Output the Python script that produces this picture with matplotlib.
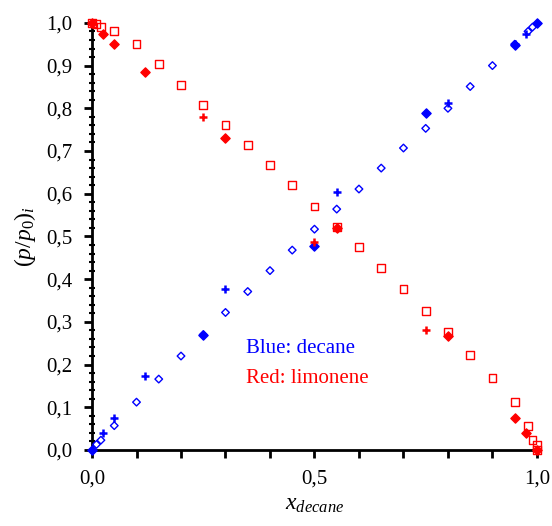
import matplotlib
matplotlib.use("Agg")
import matplotlib.pyplot as plt
from matplotlib.ticker import MultipleLocator, FuncFormatter

plt.rcParams['font.family'] = ['Liberation Serif', 'DejaVu Serif']
plt.rcParams['mathtext.fontset'] = 'custom'
plt.rcParams['mathtext.rm'] = 'Liberation Serif'
plt.rcParams['mathtext.it'] = 'Liberation Serif:italic'

# Red open squares (limonene)
red_sq_x = [0.0, 0.01, 0.02, 0.05, 0.1, 0.15, 0.2, 0.25, 0.3, 0.35, 0.4, 0.45, 0.5, 0.55,
            0.6, 0.65, 0.7, 0.75, 0.8, 0.85, 0.9, 0.95, 0.98, 0.99, 1.0, 1.0]
red_sq_y = [1.0, 0.998, 0.99, 0.98, 0.951, 0.904, 0.855, 0.808, 0.761, 0.714, 0.667, 0.62,
            0.57, 0.522, 0.475, 0.426, 0.377, 0.326, 0.276, 0.222, 0.169, 0.113, 0.057,
            0.023, 0.012, 0.0]
# Red filled diamonds (limonene)
red_di_x = [0.0, 0.025, 0.05, 0.12, 0.3, 0.55, 0.8, 0.95, 0.975, 1.0]
red_di_y = [1.0, 0.974, 0.95, 0.885, 0.73, 0.519, 0.267, 0.076, 0.039, 0.0]
# Red plus (limonene)
red_pl_x = [0.0, 0.25, 0.5, 0.75]
red_pl_y = [1.0, 0.78, 0.488, 0.281]

# Blue open diamonds (decane)
blue_od_x = [0.01, 0.02, 0.05, 0.1, 0.15, 0.2, 0.25, 0.3, 0.35, 0.4, 0.45, 0.5, 0.55, 0.6,
             0.65, 0.7, 0.75, 0.8, 0.85, 0.9, 0.95, 0.98, 0.99]
blue_od_y = [0.013, 0.023, 0.057, 0.112, 0.166, 0.22, 0.27, 0.322, 0.371, 0.42, 0.468, 0.517,
             0.564, 0.611, 0.66, 0.707, 0.753, 0.80, 0.851, 0.9, 0.95, 0.98, 0.99]
# Blue filled diamonds (decane)
blue_di_x = [0.0, 0.25, 0.5, 0.75, 0.95, 1.0]
blue_di_y = [0.0, 0.27, 0.478, 0.789, 0.948, 1.0]
# Blue plus (decane)
blue_pl_x = [0.025, 0.05, 0.12, 0.3, 0.55, 0.8, 0.95, 0.975]
blue_pl_y = [0.039, 0.076, 0.173, 0.376, 0.603, 0.812, 0.95, 0.974]

RED = '#ff0000'
BLUE = '#0000ff'

fig = plt.figure(figsize=(5.52, 5.26), dpi=100)
ax = fig.add_axes([0.1667, 0.1445, 0.806, 0.812])

ax.scatter(red_sq_x, red_sq_y, marker='s', s=32, facecolors='none', edgecolors=RED,
           linewidths=1.0, clip_on=False, zorder=3)
ax.scatter(blue_od_x, blue_od_y, marker='D', s=15, facecolors='none', edgecolors=BLUE,
           linewidths=1.0, clip_on=False, zorder=3)
ax.scatter(red_di_x, red_di_y, marker='D', s=22, color=RED, clip_on=False, zorder=4)
ax.scatter(blue_di_x, blue_di_y, marker='D', s=22, color=BLUE, clip_on=False, zorder=4)
ax.scatter(red_pl_x, red_pl_y, marker='+', s=34, color=RED, linewidths=1.8,
           clip_on=False, zorder=5)
ax.scatter(blue_pl_x, blue_pl_y, marker='+', s=34, color=BLUE, linewidths=1.8,
           clip_on=False, zorder=5)

ax.set_xlim(0, 1)
ax.set_ylim(0, 1)
for s in ['top', 'right']:
    ax.spines[s].set_visible(False)
for s in ['left', 'bottom']:
    ax.spines[s].set_linewidth(2)

ax.xaxis.set_major_locator(MultipleLocator(0.5))
ax.xaxis.set_minor_locator(MultipleLocator(0.1))
ax.yaxis.set_major_locator(MultipleLocator(0.1))
ax.yaxis.set_minor_locator(MultipleLocator(0.02))
fmt = FuncFormatter(lambda v, p: f"{v:.1f}".replace('.', ','))
ax.xaxis.set_major_formatter(fmt)
ax.yaxis.set_major_formatter(fmt)
ax.tick_params(which='major', direction='out', length=6, width=2, labelsize=15, pad=8)
ax.tick_params(axis='x', which='minor', direction='out', length=6, width=2)
ax.tick_params(axis='y', which='minor', direction='inout', length=5, width=1.5)

ax.set_xlabel(r'$x_{decane}$', fontsize=17, labelpad=4)
ax.set_ylabel(r'$(p/p_0)_i$', fontsize=17, labelpad=6)

ax.text(0.345, 0.227, 'Blue: decane', color=BLUE, fontsize=15, transform=ax.transAxes)
ax.text(0.345, 0.158, 'Red: limonene', color=RED, fontsize=15, transform=ax.transAxes)

fig.savefig('out.png', dpi=100)
